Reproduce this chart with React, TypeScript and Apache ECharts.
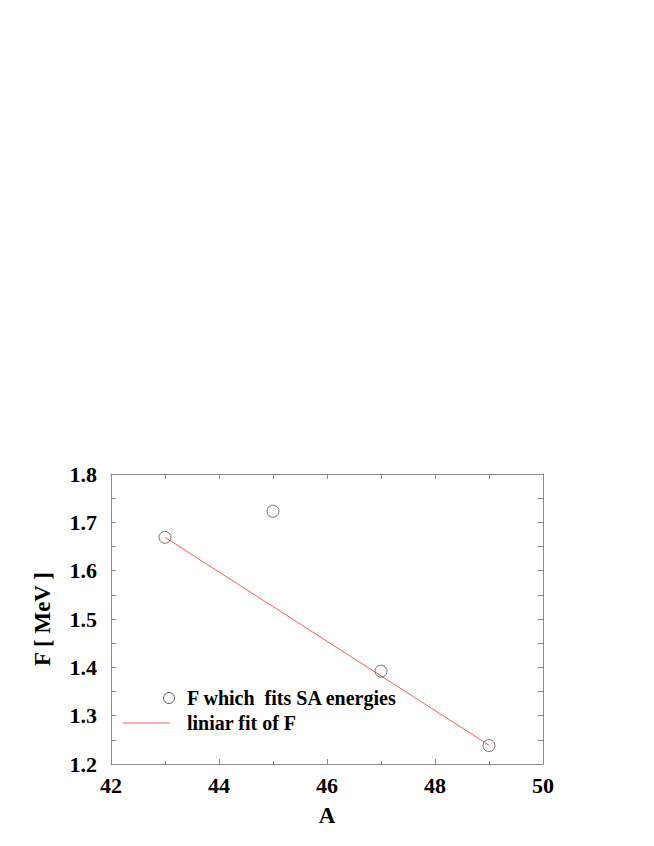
import React, { useEffect, useRef } from "react";
import * as echarts from "echarts";

const massNumbers = [43, 45, 47, 49];
const fValues = [1.669, 1.723, 1.392, 1.238];
const fitA = [43, 49];
const fitF = [1.669, 1.239];
const legendLabels = ["F which  fits SA energies", "liniar fit of F"];
const xTitle = "A";
const yTitle = "F [ MeV ]";

const FONT = "'Liberation Serif', 'Times New Roman', serif";
const AXIS_COLOR = "#8a8a8a";

export default function App() {
  const ref = useRef<HTMLDivElement>(null);
  useEffect(() => {
    if (!ref.current) return;
    const chart = echarts.init(ref.current, undefined, { renderer: "svg" });
    const labelStyle = { fontFamily: FONT, fontWeight: "bold" as const, fontSize: 22, color: "#000" };
    chart.setOption({
      animation: false,
      backgroundColor: "#fff",
      grid: { left: 103, top: 466, width: 432, height: 290, containLabel: false },
      xAxis: [
        {
          type: "value",
          position: "bottom",
          min: 42,
          max: 50,
          interval: 2,
          name: xTitle,
          nameLocation: "middle",
          nameGap: 40,
          nameTextStyle: { ...labelStyle, fontSize: 23 },
          axisLine: { show: true, lineStyle: { color: AXIS_COLOR, width: 1 } },
          axisTick: { show: true, inside: true, length: 5, lineStyle: { color: AXIS_COLOR } },
          minorTick: { show: true, splitNumber: 2, length: 3, lineStyle: { color: AXIS_COLOR } },
          axisLabel: { ...labelStyle, margin: 10 },
          splitLine: { show: false },
        },
        {
          type: "value",
          position: "top",
          min: 42,
          max: 50,
          interval: 1,
          axisLine: { show: true, lineStyle: { color: AXIS_COLOR, width: 1 } },
          axisTick: { show: true, inside: true, length: 5, lineStyle: { color: AXIS_COLOR } },
          axisLabel: { show: false },
          splitLine: { show: false },
        },
      ],
      yAxis: [
        {
          type: "value",
          position: "left",
          min: 1.2,
          max: 1.8,
          interval: 0.1,
          name: yTitle,
          nameLocation: "middle",
          nameGap: 57,
          nameRotate: 90,
          nameTextStyle: { ...labelStyle, fontSize: 23 },
          axisLine: { show: true, lineStyle: { color: AXIS_COLOR, width: 1 } },
          axisTick: { show: true, inside: true, length: 5, lineStyle: { color: AXIS_COLOR } },
          minorTick: { show: true, splitNumber: 2, length: 5, lineStyle: { color: AXIS_COLOR } },
          axisLabel: { ...labelStyle, margin: 14, formatter: (v: number) => v.toFixed(1) },
          splitLine: { show: false },
        },
        {
          type: "value",
          position: "right",
          min: 1.2,
          max: 1.8,
          interval: 0.05,
          axisLine: { show: true, lineStyle: { color: AXIS_COLOR, width: 1 } },
          axisTick: { show: true, inside: true, length: 5, lineStyle: { color: AXIS_COLOR } },
          axisLabel: { show: false },
          splitLine: { show: false },
        },
      ],
      series: [
        {
          name: legendLabels[1],
          type: "line",
          xAxisIndex: 0,
          yAxisIndex: 0,
          data: fitA.map((a, i) => [a, fitF[i]]),
          showSymbol: false,
          symbol: "none",
          lineStyle: { color: "#ff5a5a", width: 1 },
          z: 2,
        },
        {
          name: legendLabels[0],
          type: "scatter",
          xAxisIndex: 0,
          yAxisIndex: 0,
          data: massNumbers.map((a, i) => [a, fValues[i]]),
          symbol: "circle",
          symbolSize: 12,
          itemStyle: { color: "transparent", borderColor: "#555", borderWidth: 1 },
          z: 3,
        },
      ],
      graphic: [
        {
          type: "circle",
          shape: { cx: 161, cy: 690, r: 5.5 },
          style: { fill: "none", stroke: "#555", lineWidth: 1 },
        },
        {
          type: "text",
          x: 179,
          y: 690,
          style: {
            text: legendLabels[0],
            font: `bold 20px ${FONT}`,
            fill: "#000",
            verticalAlign: "middle",
          },
        },
        {
          type: "line",
          shape: { x1: 115, y1: 715, x2: 162, y2: 715 },
          style: { stroke: "#ff5a5a", lineWidth: 1 },
        },
        {
          type: "text",
          x: 179,
          y: 715,
          style: {
            text: legendLabels[1],
            font: `bold 20px ${FONT}`,
            fill: "#000",
            verticalAlign: "middle",
          },
        },
      ],
    });
    return () => chart.dispose();
  }, []);
  return <div ref={ref} style={{ width: 654, height: 846 }} />;
}
